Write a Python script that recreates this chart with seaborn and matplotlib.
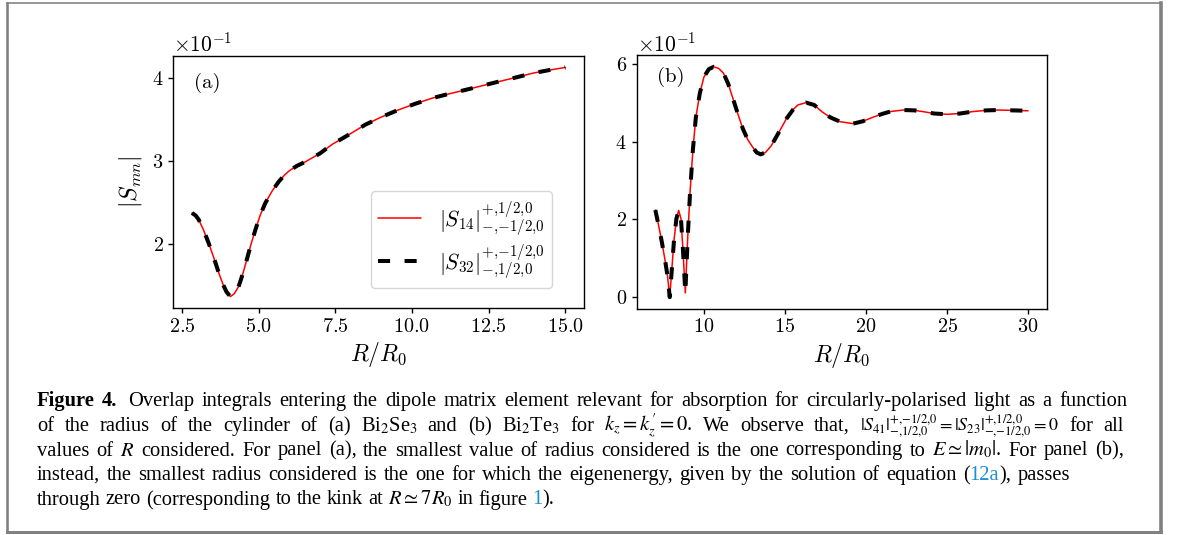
import re
import numpy as np
import pandas as pd
import matplotlib
matplotlib.use("Agg")
import matplotlib.pyplot as plt
import seaborn as sns
from matplotlib.ticker import MultipleLocator
from matplotlib.transforms import IdentityTransform
from matplotlib.lines import Line2D

# ---------------- data ----------------
# panel (a): Bi2Se3, values of |S_mn| in units of 1e-1
r_a = [2.83, 2.95, 3.05, 3.2, 3.37, 3.55, 3.70, 3.85, 3.95, 4.08,
       4.2, 4.35, 4.5, 4.62, 4.76, 4.90, 5.05, 5.22, 5.45, 5.66,
       5.85, 6.0, 6.25, 6.53, 7.0, 7.4, 8.0, 8.49, 9.0, 9.58,
       10.1, 10.67, 11.2, 11.76, 12.3, 12.84, 13.4, 13.93, 14.5, 15.0]
s_a_e1 = [2.37, 2.34, 2.29, 2.17, 2.01, 1.82, 1.65, 1.50, 1.42, 1.36,
          1.39, 1.48, 1.65, 1.81, 2.00, 2.17, 2.34, 2.49, 2.64, 2.75,
          2.83, 2.88, 2.94, 2.99, 3.09, 3.20, 3.33, 3.44, 3.53, 3.62,
          3.69, 3.76, 3.81, 3.86, 3.91, 3.96, 4.01, 4.06, 4.10, 4.13]

# panel (b): Bi2Te3
r_b = [7.0, 7.2, 7.4, 7.6, 7.75, 7.89, 8.0, 8.15, 8.3, 8.44, 8.58, 8.7, 8.85,
       9.0, 9.15, 9.32, 9.5, 9.75, 10.0, 10.3, 10.6, 10.9, 11.2, 11.5, 11.8,
       12.1, 12.4, 12.7, 13.0, 13.25, 13.5, 13.8, 14.15, 14.6, 15.08, 15.5,
       15.8, 16.3, 16.8, 17.3, 17.8, 18.4, 19.2, 19.8, 20.4, 21.0, 21.5,
       22.3, 23.0, 23.5, 24.2, 25.0, 25.8, 26.6, 27.4, 28.2, 29.1, 30.0]
s_b_e1 = [2.24, 1.85, 1.42, 0.95, 0.55, 0.0, 0.62, 1.45, 2.02, 2.23, 2.02, 1.25, 0.11,
          1.55, 2.75, 3.80, 4.62, 5.25, 5.66, 5.86, 5.92, 5.88, 5.76, 5.48, 5.09,
          4.70, 4.33, 4.05, 3.86, 3.72, 3.67, 3.72, 3.89, 4.22, 4.58, 4.82,
          4.94, 5.00, 4.94, 4.76, 4.62, 4.51, 4.46, 4.52, 4.62, 4.71, 4.77,
          4.81, 4.80, 4.77, 4.72, 4.70, 4.72, 4.77, 4.80, 4.81, 4.80, 4.79]

label_14 = r"$|S_{14}|^{+{,}1/2{,}0}_{-{,}{-1}/2{,}0}$"
label_32 = r"$|S_{32}|^{+{,}{-1}/2{,}0}_{-{,}1/2{,}0}$"
xlabel = r"$R/R_0$"
ylabel = r"$|S_{mn}|$"
panel_labels = ["(a)", "(b)"]

LINK = "#1a8fd6"
# markup: *word = bold, [text] = link colour, %word = slightly smaller maths, ~ = extra space
caption_lines = [
    "*Figure *4. ~ Overlap integrals entering the dipole matrix element relevant for absorption for circularly-polarised light as a function",
    r"of the radius of the cylinder of (a) Bi$_2$Se$_3$ and (b) Bi$_2$Te$_3$ for $k_z=k_z^{\prime}=0$. We observe that, %$|S_{41}|^{+{,}{-1}/2{,}0}_{-{,}1/2{,}0}=|S_{23}|^{+{,}1/2{,}0}_{-{,}{-1}/2{,}0}=0$ for all",
    r"values of $R$ considered. For panel (a), the smallest value of radius considered is the one corresponding to $E\simeq|m_0|$. For panel (b),",
    "instead, the smallest radius considered is the one for which the eigenenergy, given by the solution of equation ([12a]), passes",
    r"through zero (corresponding to the kink at $R\simeq7R_0$ in figure [1]).",
]
caption_right = [1127, 1124, 1124, 1070, None]
caption_last_end = 580

# ---------------- style ----------------
sns.set_style("ticks")
plt.rcParams.update({
    "font.family": "serif",
    "font.serif": ["cmr10"],
    "mathtext.fontset": "cm",
    "axes.formatter.use_mathtext": True,
    "axes.edgecolor": "black",
    "axes.labelcolor": "black",
    "text.color": "black",
    "xtick.color": "black",
    "ytick.color": "black",
    "axes.linewidth": 1.0,
    "xtick.major.width": 1.0,
    "ytick.major.width": 1.0,
    "xtick.major.size": 3.5,
    "ytick.major.size": 3.5,
    "xtick.labelsize": 14.5,
    "ytick.labelsize": 14.5,
    "axes.labelsize": 17,
})

W, H = 1179, 535
fig = plt.figure(figsize=(W / 100, H / 100), dpi=100)
ax_a = fig.add_axes([173.3 / W, 1 - 308.0 / H, 410.7 / W, 252.0 / H])
ax_b = fig.add_axes([636.7 / W, 1 - 308.7 / H, 410.0 / W, 253.4 / H])

df_a = pd.DataFrame({"R": r_a, "S": np.array(s_a_e1) * 1e-1})
df_b = pd.DataFrame({"R": r_b, "S": np.array(s_b_e1) * 1e-1})

dash = (0, (3.0, 3.6))
for ax, df in ((ax_a, df_a), (ax_b, df_b)):
    sns.lineplot(data=df, x="R", y="S", ax=ax, color="red", lw=1.1,
                 label=label_14, zorder=2, sort=False)
    sns.lineplot(data=df, x="R", y="S", ax=ax, color="black", lw=2.9,
                 linestyle=dash, label=label_32, zorder=3, sort=False)
    ax.set_xlabel(xlabel, fontsize=17, labelpad=3)
    ax.set_ylabel("")
    ax.ticklabel_format(axis="y", style="sci", scilimits=(0, 0))
    ax.yaxis.get_offset_text().set_fontsize(15.5)
    ax.margins(x=0.05, y=0.05)

ax_a.set_ylabel(ylabel, fontsize=17, labelpad=6)
ax_a.xaxis.set_major_locator(MultipleLocator(2.5))
ax_a.yaxis.set_major_locator(MultipleLocator(0.1))
ax_b.xaxis.set_major_locator(MultipleLocator(5))
ax_b.yaxis.set_major_locator(MultipleLocator(0.2))

ax_a.legend(loc="lower right", bbox_to_anchor=(0.922, 0.079),
            borderaxespad=0, fontsize=15.5, handlelength=2.0,
            labelspacing=0.2, borderpad=0.35, framealpha=0.8)
ax_b.get_legend().remove()

ax_a.text(0.05, 0.895, panel_labels[0], transform=ax_a.transAxes,
          fontsize=15, va="center", ha="left")
ax_b.text(0.049, 0.913, panel_labels[1], transform=ax_b.transAxes,
          fontsize=15, va="center", ha="left")

# ---------------- caption ----------------
renderer = fig.canvas.get_renderer()
cap_kw = dict(family="Liberation Serif", math_fontfamily="stix",
              transform=IdentityTransform(), va="baseline", ha="left")


def measure(s, size, bold=False):
    t = fig.text(0, 0, s, fontsize=size,
                 fontweight="bold" if bold else "normal", **cap_kw)
    w = t.get_window_extent(renderer).width
    t.remove()
    return w


def parse_word(word):
    bold = word.startswith("*")
    if bold:
        word = word[1:]
    small = word.startswith("%")
    if small:
        word = word[1:]
    f = 0.88 if small else 1.0
    segs = []
    for p in re.split(r"(\[[^\]]*\])", word):
        if not p:
            continue
        if p.startswith("["):
            segs.append((p[1:-1], LINK, bold, f))
        else:
            segs.append((p, "black", bold, f))
    return segs


x0 = 37


def layout(size):
    sp = measure("n n", size) - measure("nn", size)
    out = []
    for line in caption_lines:
        items = [w for w in line.split(" ") if w]
        extra = sp * 0.6 * items.count("~")
        words = [parse_word(w) for w in items if w != "~"]
        widths = [[measure(s, size * f, b) for s, c, b, f in segs] for segs in words]
        nat = sum(sum(w) for w in widths) + sp * (len(words) - 1) + extra
        out.append((words, widths, nat, extra))
    return sp, out


base = 13.0
sp0, lay0 = layout(base)
scale = (caption_last_end - x0) / lay0[-1][2]
for (words, widths, nat, extra), right in zip(lay0, caption_right):
    if right is not None:
        scale = min(scale, 0.975 * (right - x0) / nat)
cap_size = base * scale
space_w, lay = layout(cap_size)

baselines = [406, 431, 455.5, 480, 504.5]
for (words, widths, nat, extra), right, yb in zip(lay, caption_right, baselines):
    tot = sum(sum(w) for w in widths) + extra
    if right is not None and len(words) > 1:
        gap = (right - x0 - tot) / (len(words) - 1)
    else:
        gap = space_w
    x = x0
    for i, (segs, ws) in enumerate(zip(words, widths)):
        for (s, c, b, f), w in zip(segs, ws):
            fig.text(x, H - yb, s, color=c, fontsize=cap_size * f,
                     fontweight="bold" if b else "normal", **cap_kw)
            x += w
        x += gap
        if i == 1:
            x += extra

# ---------------- page frame ----------------
grey = "#808080"
for xs, ys, lw in (([7, 1160.5], [2.5, 2.5], 1.6),
                   ([7, 7], [2.5, 532], 2.6),
                   ([1160.5, 1160.5], [2.5, 532], 3.6),
                   ([7, 1160.5], [532, 532], 3.0)):
    fig.add_artist(Line2D(xs, [H - y for y in ys], transform=IdentityTransform(),
                          color=grey, lw=lw * 0.72, solid_capstyle="projecting"))

fig.savefig("out.png", dpi=100)
